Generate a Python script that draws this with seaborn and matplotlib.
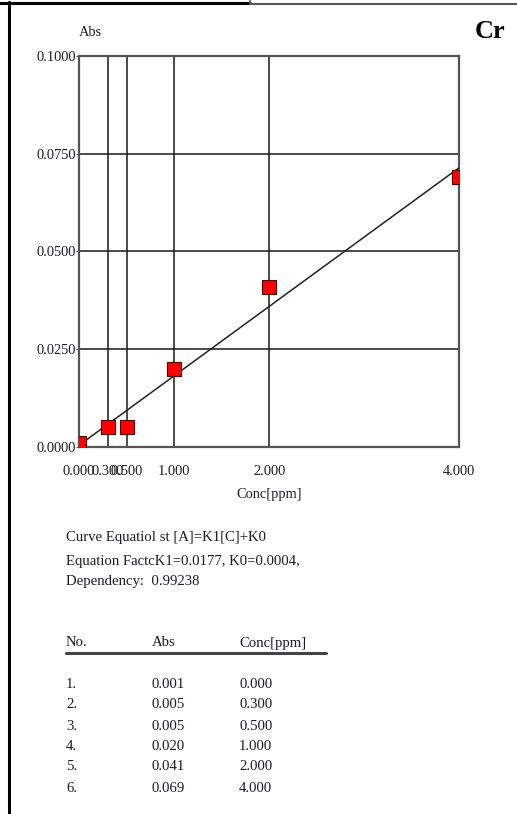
import numpy as np
import pandas as pd
import matplotlib
matplotlib.use("Agg")
import matplotlib.pyplot as plt
from matplotlib.lines import Line2D
import seaborn as sns

# ---- data ----
conc = [0.000, 0.300, 0.500, 1.000, 2.000, 4.000]
absorb = [0.001, 0.005, 0.005, 0.020, 0.041, 0.069]
row_no = ["1.", "2.", "3.", "4.", "5.", "6."]
y_ticks = [0.0, 0.025, 0.05, 0.075, 0.1]
element = "Cr"
eq_lines = ["Curve Equatiol st [A]=K1[C]+K0",
            "Equation FactcK1=0.0177, K0=0.0004,",
            "Dependency:  0.99238"]
table_header = ["No.", "Abs", "Conc[ppm]"]

sns.set_style("white")
plt.rcParams["font.family"] = ["Liberation Serif", "DejaVu Serif"]

W, H = 517, 814
fig = plt.figure(figsize=(W / 100, H / 100), dpi=100)
TXT = "#1c1c2a"
FS_AX = 10.4
FS_TXT = 10.6

def fx(px):
    return px / W

def fy(py):
    return 1 - py / H

ax = fig.add_axes([fx(79), fy(447), fx(459) - fx(79), fy(56) - fy(447)])
df = pd.DataFrame({"Conc": conc, "Abs": absorb})

sns.regplot(data=df, x="Conc", y="Abs", ax=ax, scatter=False, ci=None,
            truncate=True, line_kws=dict(color="#222222", lw=1.1, zorder=3))
sns.scatterplot(data=df, x="Conc", y="Abs", ax=ax, marker="s", s=110,
                color="#ff0000", edgecolor="#5a0000", linewidth=0.8,
                zorder=4, legend=False)

ax.set_xlim(0, 4)
ax.set_ylim(0, 0.1)
ax.set_xticks(conc)
ax.set_xticklabels([f"{v:.3f}" for v in conc])
ax.set_yticks(y_ticks)
ax.set_yticklabels([f"{v:.4f}" for v in y_ticks])
ax.grid(True, color="#1a1a1a", lw=1.1)
ax.set_axisbelow(True)
for sp in ax.spines.values():
    sp.set_color("#555555")
    sp.set_linewidth(1.6)
ax.tick_params(axis="x", length=0, pad=13, labelsize=FS_AX, labelcolor=TXT)
ax.tick_params(axis="y", length=2, width=0.8, color="#555555", pad=0.5,
               labelsize=FS_AX, labelcolor=TXT, left=True)
ax.set_xlabel("Conc[ppm]", fontsize=FS_AX, color=TXT, labelpad=7)
ax.set_ylabel("")

# labels above plot
fig.text(fx(79), fy(32), "Abs", fontsize=FS_AX, color=TXT, ha="left", va="center")
fig.text(fx(506), fy(32), element, fontsize=19, fontweight="bold",
         color="black", ha="right", va="center")

# equation lines
for t, y in zip(eq_lines, [537, 561, 581]):
    fig.text(fx(66), fy(y), t, fontsize=FS_TXT, color=TXT, ha="left", va="center")

# table
col_x = [66, 152, 239]
for t, x in zip(table_header, col_x):
    fig.text(fx(x), fy(643), t, fontsize=FS_TXT, color=TXT, ha="left", va="center")
fig.add_artist(Line2D([fx(66), fx(326)], [fy(652.5), fy(652.5)],
                      transform=fig.transFigure, color="#444444", lw=2.2))
row_y = [684, 704, 726, 746, 767, 788]
for n, a, c, y in zip(row_no, absorb, conc, row_y):
    fig.text(fx(col_x[0]), fy(y), n, fontsize=FS_TXT, color=TXT, ha="left", va="center")
    fig.text(fx(col_x[1]), fy(y), f"{a:.3f}", fontsize=FS_TXT, color=TXT, ha="left", va="center")
    fig.text(fx(col_x[2]), fy(y), f"{c:.3f}", fontsize=FS_TXT, color=TXT, ha="left", va="center")

# page frame lines
fig.add_artist(Line2D([fx(9), fx(9)], [fy(2), fy(814)],
                      transform=fig.transFigure, color="black", lw=2.2))
fig.add_artist(Line2D([0, fx(250)], [fy(2.5), fy(2.5)],
                      transform=fig.transFigure, color="black", lw=2.2))
fig.add_artist(Line2D([fx(250), 1], [fy(3.5), fy(3.5)],
                      transform=fig.transFigure, color="#555555", lw=1.5))
fig.add_artist(Line2D([fx(250), fx(250)], [fy(0), fy(4)],
                      transform=fig.transFigure, color="#555555", lw=1.2))

fig.savefig("out.png", dpi=100, facecolor="white")
